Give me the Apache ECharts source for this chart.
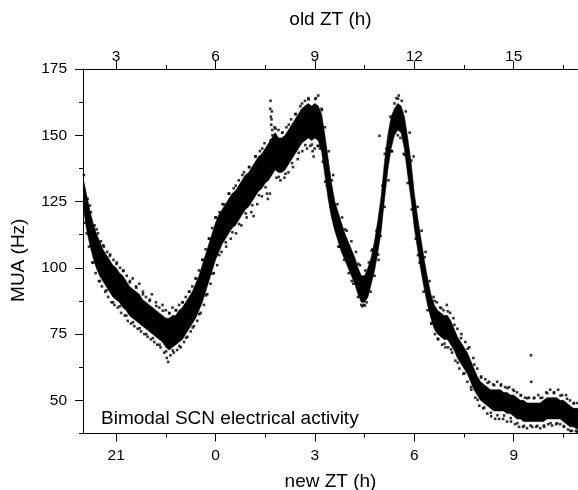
<!DOCTYPE html>
<html>
<head>
<meta charset="utf-8">
<script src="https://cdn.jsdelivr.net/npm/echarts@6/dist/echarts.min.js"></script>
<style>
html,body{margin:0;padding:0;background:#fff;}
#chart{width:578px;height:490px;}
</style>
</head>
<body>
<div id="chart"></div>
<script>
// new ZT (h), sampled along the recording (negative = previous day, e.g. -3 = 21)
const hours = [
-4.0,-3.9,-3.8,-3.7,-3.6,-3.5,-3.4,-3.3,-3.2,-3.1,
-3.0,-2.9,-2.8,-2.7,-2.6,-2.5,-2.4,-2.3,-2.2,-2.1,
-2.0,-1.9,-1.8,-1.7,-1.6,-1.5,-1.4,-1.3,-1.2,-1.1,
-1.0,-0.9,-0.8,-0.7,-0.6,-0.5,-0.4,-0.3,-0.2,-0.1,
0.0,0.1,0.2,0.3,0.4,0.5,0.6,0.7,0.8,0.9,
1.0,1.1,1.2,1.3,1.4,1.5,1.6,1.7,1.8,1.9,
2.0,2.1,2.2,2.3,2.4,2.5,2.6,2.7,2.8,2.9,
3.0,3.1,3.2,3.3,3.4,3.5,3.6,3.7,3.8,3.9,
4.0,4.1,4.2,4.3,4.4,4.5,4.6,4.7,4.8,4.9,
5.0,5.1,5.2,5.3,5.4,5.5,5.6,5.7,5.8,5.9,
6.0,6.1,6.2,6.3,6.4,6.5,6.6,6.7,6.8,6.9,
7.0,7.1,7.2,7.3,7.4,7.5,7.6,7.7,7.8,7.9,
8.0,8.1,8.2,8.3,8.4,8.5,8.6,8.7,8.8,8.9,
9.0,9.1,9.2,9.3,9.4,9.5,9.6,9.7,9.8,9.9,
10.0,10.1,10.2,10.3,10.4,10.5,10.6,10.7,10.8,10.94
];
// lower edge of the dense MUA cloud (Hz)
const muaLow = [
124,115,109,104,100,97,95,93,91,89,
88,87,85,84,82,81,80,79,78,77,
76,75,74,73,72,70,69,70,71,72,
73,75,77,79,81,84,87,91,95,99,
103,106,109,111,113,115,116,118,120,122,
123,125,127,129,130,132,133,135,137,136,
136,137,139,141,143,145,147,148,149,148,
149,148,144,135,126,119,114,110,106,103,
100,97,94,90,87,87,89,94,99,106,
114,126,137,145,150,152,151,145,135,126,
115,107,99,92,86,81,77,75,74,73,
73,71,69,66,64,62,60,57,54,52,
50,49,48,47,46,46,46,46,45,45,
44,43,43,42,42,42,42,42,42,42,
43,43,43,43,43,42,41,40,40,39
];
// upper edge of the dense MUA cloud (Hz)
const muaHigh = [
134,128,122,117,113,110,107,105,103,101,
100,98,97,95,93,92,91,90,88,87,
86,85,84,83,82,81,81,82,82,84,
85,87,89,91,94,97,101,105,109,113,
117,120,122,124,126,128,129,131,133,135,
136,138,140,142,143,145,147,149,151,149,
149,150,152,154,156,158,160,161,162,161,
162,161,158,150,141,132,125,121,117,113,
110,107,104,100,97,97,100,104,110,118,
127,140,150,157,160,162,161,157,149,140,
128,119,111,103,96,90,86,84,83,82,
82,80,77,74,72,70,68,65,62,59,
57,56,55,54,54,54,54,53,53,52,
52,51,50,50,49,49,49,49,49,50,
51,51,51,51,50,50,49,48,47,47
];
// sparse samples scattered around the cloud and isolated outliers
const strayHours = [
-3.97,-3.93,-3.86,-3.82,-3.76,-3.72,-3.65,-3.62,-3.55,-3.52,-3.46,-3.43,-3.37,-3.33,-3.27,-3.24,-3.18,-3.14,-3.08,-3.05,
-2.98,-2.95,-2.88,-2.85,-2.78,-2.74,-2.68,-2.65,-2.58,-2.55,-2.5,-2.45,-2.4,-2.35,-2.3,-2.25,-2.19,-2.15,-2.1,-2.05,
-1.98,-1.95,-1.92,-1.85,-1.8,-1.76,-1.7,-1.66,-1.6,-1.55,-1.5,-1.47,-1.43,-1.4,-1.36,-1.3,-1.26,-1.2,-1.16,-1.1,
-1.05,-1.0,-0.95,-0.9,-0.85,-0.8,-0.75,-0.7,-0.65,-0.6,-0.55,-0.5,-0.45,-0.4,-0.35,-0.3,-0.25,-0.2,-0.15,-0.1,
-0.05,0.0,0.05,0.12,0.18,0.25,0.32,0.4,0.46,0.55,0.62,0.7,0.78,0.86,0.94,1.02,1.08,1.15,1.2,1.26,
1.34,1.4,1.48,1.55,1.58,
1.64,1.65,1.66,1.67,1.68,1.69,1.7,1.71,1.72,1.66,
1.78,1.84,1.9,1.96,2.02,2.08,2.14,2.2,2.28,2.34,2.42,2.48,2.56,2.62,2.7,2.76,2.8,2.86,2.93,2.96,
2.99,3.03,3.08,3.1,3.15,3.2,3.24,3.3,3.36,3.42,3.48,3.55,3.6,3.68,3.74,3.82,3.88,3.96,4.02,4.1,
4.16,4.24,4.3,4.36,4.4,4.43,4.47,4.52,4.56,4.63,4.68,4.74,4.8,4.86,4.92,4.95,4.98,5.04,5.1,5.16,
5.22,5.28,5.33,5.4,5.46,5.5,5.53,5.58,5.62,5.68,5.74,5.8,5.86,5.92,5.98,6.04,6.1,6.16,6.22,6.28,
6.34,6.4,6.46,6.52,6.58,6.62,6.68,6.72,6.78,6.84,6.88,6.94,6.98,7.02,7.08,7.14,7.18,7.24,7.3,7.36,
7.42,7.48,7.54,7.6,7.66,7.72,7.78,7.84,7.9,7.96,8.02,8.08,8.14,8.2,8.26,8.32,8.38,8.44,8.5,8.56,
8.62,8.68,8.74,8.8,8.86,8.92,8.98,9.04,9.1,9.16,9.22,9.28,9.34,9.4,9.46,9.52,9.53,9.56,9.62,9.68,
9.74,9.8,9.86,9.92,9.98,10.04,10.1,10.16,10.22,10.28,10.34,10.4,10.46,10.52,10.58,10.64,10.7,10.76,10.82,10.88,
10.92
];
const strayMUA = [
135,117,126,108,121,102,116,98,113,95,110,93,108,91,106,89,105,87,103,86,
102,85,100,83,99,82,97,80,95,79,96,78,93,77,94,76,91,75,89,74,
88,73,90,72,87,71,85,70,86,68,84,66,64.5,83,67,85,68,84,69,86,
70,87,72,89,74,91,76,93,78,96,80,99,83,103,86,107,90,111,94,115,
98,119,101,121,106,124,108,128,111,130,113,133,116,136,119,138,121,119.5,142,124,
144,127,147,128,126,
128,160,163,157,154,156,159,152,150,148,
153,134,152,133,151,134,153,136,156,138,158,141,161,144,163,145,164,146,144,142,
145,164,146,165,145,160,140,153,131,144,123,135,116,124,108,119,103,114,98,110,
94,106,89,101,86,85.5,86,99,87,102,91,107,97,114,103,149.8,112,131,123,145,
133,157,144,162,164,150,165,149,163,143,159,132,151,122,142,111,123,102,114,91,
106,84,95,79,89,75,87,73,85,71,84,70,86,70,83,68,81,65,77,62,
75,60,72,57,70,54,66,51,62,48,59,47,58,45,57,44,56,43,57,43,
56,43,55,42,55,42,54,41,53,40,52,40,51,39.5,51,67,57,40,51,40,
52,39.5,51,40,53,41,54,40.5,53,41,54,41,52,40,52,39,50,38.5,49,38.5,
49
];
// samples hugging the ragged edge of the cloud
const edgeHours = [
-3.89,-3.79,-3.69,-3.59,-3.49,-3.39,-3.29,-3.19,-3.09,-2.99,-2.89,-2.79,-2.69,-2.59,-2.49,-2.39,-2.29,-2.19,-2.09,-1.99,
-1.89,-1.79,-1.69,-1.59,-1.49,-1.39,-1.29,-1.19,-1.09,-0.99,-0.89,-0.79,-0.69,-0.59,-0.49,-0.39,-0.29,-0.19,-0.09,0.01,
0.11,0.21,0.31,0.41,0.51,0.61,0.71,0.81,0.91,1.01,1.11,1.21,1.31,1.41,1.51,1.81,1.91,2.01,2.11,2.21,
2.31,2.41,2.51,2.61,2.71,2.81,2.91,3.01,3.11,3.21,3.31,3.51,3.71,3.91,4.11,4.31,4.51,4.71,4.91,5.11,
5.31,5.51,5.71,5.91,6.11,6.31,6.51,6.61,6.71,6.81,6.91,7.01,7.11,7.21,7.31,7.41,7.51,7.61,7.71,7.81,
7.91,8.01,8.11,8.21,8.31,8.41,8.51,8.61,8.71,8.81,8.91,9.01,9.11,9.21,9.31,9.41,9.51,9.61,9.71,9.81,
9.91,10.01,10.11,10.21,10.31,10.41,10.51,10.61,10.71,10.81,10.91
];
const edgeMUA = [
113,123.5,102,114.5,95,108.5,91.5,104.5,87,101.5,85.5,98.8,82,94.5,79.5,92.5,77.2,90,75,87.5,
73.5,85.6,71,83.8,68.5,82.8,68.8,84,70.5,87,73.6,91,77.5,96,82.5,103,89.6,111,97.8,119,
104.8,124,109.6,128,113.4,131,116.5,135,120.5,138,123.6,142,127.4,145,130.4,152.5,134.3,151,135.5,154,
139.5,158,143.4,162,146.3,163.5,146.5,163.7,146,159.5,132.5,133,108,114.5,95,101.5,85.8,106.5,105,143,
144,163.8,142.5,140.5,104.8,104,79,87.5,73.3,84.8,71.4,83.6,69.2,78.5,64.2,73.5,60.2,69.5,55,63.5,
50.2,58.6,47.3,56.6,45.3,55.7,44.4,55.6,44.3,54.6,43.3,53.6,41.4,51.8,40.4,50.8,40.5,50.8,40.4,50.9,
40.5,52.7,41.4,52.8,41.4,51.8,40.3,50.6,38.5,48.8,38.2
];
// axis ticks
const newTicks = [-3, 0, 3, 6, 9];
const minorXTicks = [-1.5, 1.5, 4.5, 7.5, 10.5];
const yTicks = [50, 75, 100, 125, 150, 175];
const minorYTicks = [37.5, 62.5, 87.5, 112.5, 137.5, 162.5];

const FONT = "'Liberation Sans', Arial, sans-serif";
const X_MIN = -4, X_MAX = 10.94, Y_MIN = 37.5, Y_MAX = 175;

const bandData = hours.map((h, i) => [h, muaLow[i], muaHigh[i]]);
const strayData = strayHours.map((h, i) => [h, strayMUA[i]]);
const edgeData = edgeHours.map((h, i) => [h, edgeMUA[i]]);

// one polygon: along the upper edge, then back along the lower edge
function renderBand(params, api) {
  if (params.dataIndex !== 0) return null;
  const pts = [];
  for (let i = 0; i < bandData.length; i++) pts.push(api.coord([bandData[i][0], bandData[i][2]]));
  for (let i = bandData.length - 1; i >= 0; i--) pts.push(api.coord([bandData[i][0], bandData[i][1]]));
  return {
    type: 'polygon',
    shape: {points: pts},
    style: {fill: '#000', stroke: '#000', lineWidth: 0.6}
  };
}

const chart = echarts.init(document.getElementById('chart'), null, {renderer: 'canvas'});
const axisLine = {show: true, onZero: false, lineStyle: {color: '#000', width: 1}};
const noLine = {show: false, onZero: false};
const labelStyle = {color: '#000', fontSize: 15.5, fontFamily: FONT};
const nameStyle = {color: '#000', fontSize: 19, fontFamily: FONT};
const dots = {symbol: 'rect', symbolSize: 2.6, itemStyle: {color: '#000'}, z: 3, silent: true,
  xAxisIndex: 0, yAxisIndex: 0};

chart.setOption({
  animation: false,
  backgroundColor: '#fff',
  grid: {left: 83, top: 69, right: 0, bottom: 56.5, containLabel: false, outerBoundsMode: 'none'},
  xAxis: [
    {
      type: 'value', position: 'bottom', min: X_MIN, max: X_MAX,
      axisLine: axisLine,
      axisTick: {show: true, customValues: newTicks, length: 8, lineStyle: {color: '#000', width: 1}},
      axisLabel: Object.assign({customValues: newTicks, margin: 14,
        formatter: v => String(v < 0 ? v + 24 : v)}, labelStyle),
      splitLine: {show: false},
      name: 'new ZT (h)', nameLocation: 'middle', nameGap: 39, nameTextStyle: nameStyle
    },
    {
      type: 'value', position: 'top', min: X_MIN, max: X_MAX,
      axisLine: axisLine,
      axisTick: {show: true, customValues: newTicks, length: 8, lineStyle: {color: '#000', width: 1}},
      axisLabel: Object.assign({customValues: newTicks, margin: 4,
        formatter: v => String(v + 6)}, labelStyle),
      splitLine: {show: false},
      name: 'old ZT (h)', nameLocation: 'middle', nameGap: 40, nameTextStyle: nameStyle
    },
    {
      type: 'value', position: 'bottom', min: X_MIN, max: X_MAX,
      axisLine: noLine,
      axisTick: {show: true, customValues: minorXTicks, length: 4, lineStyle: {color: '#000', width: 1}},
      axisLabel: {show: false}, splitLine: {show: false}
    },
    {
      type: 'value', position: 'top', min: X_MIN, max: X_MAX,
      axisLine: noLine,
      axisTick: {show: true, customValues: minorXTicks, length: 4, lineStyle: {color: '#000', width: 1}},
      axisLabel: {show: false}, splitLine: {show: false}
    }
  ],
  yAxis: [
    {
      type: 'value', position: 'left', min: Y_MIN, max: Y_MAX,
      axisLine: axisLine,
      axisTick: {show: true, customValues: yTicks, length: 8, lineStyle: {color: '#000', width: 1}},
      axisLabel: Object.assign({customValues: yTicks, margin: 16}, labelStyle),
      splitLine: {show: false},
      name: 'MUA (Hz)', nameLocation: 'middle', nameGap: 55, nameRotate: 90,
      nameTextStyle: Object.assign({padding: [0, 18, 0, 0]}, nameStyle)
    },
    {
      type: 'value', position: 'left', min: Y_MIN, max: Y_MAX,
      axisLine: noLine,
      axisTick: {show: true, customValues: minorYTicks, length: 4, lineStyle: {color: '#000', width: 1}},
      axisLabel: {show: false}, splitLine: {show: false}
    }
  ],
  series: [
    {
      type: 'custom', name: 'band', coordinateSystem: 'cartesian2d',
      xAxisIndex: 0, yAxisIndex: 0,
      data: bandData, encode: {x: 0, y: [1, 2]},
      renderItem: renderBand, z: 2, silent: true, clip: true
    },
    Object.assign({type: 'scatter', name: 'stray', data: strayData}, dots),
    Object.assign({type: 'scatter', name: 'edge', data: edgeData}, dots)
  ],
  graphic: [
    {
      type: 'text', z: 10,
      style: {x: 101, y: 418.5, text: 'Bimodal SCN electrical activity',
        font: "19px 'Liberation Sans', Arial, sans-serif", fill: '#000', verticalAlign: 'middle'}
    }
  ]
});
</script>
</body>
</html>
